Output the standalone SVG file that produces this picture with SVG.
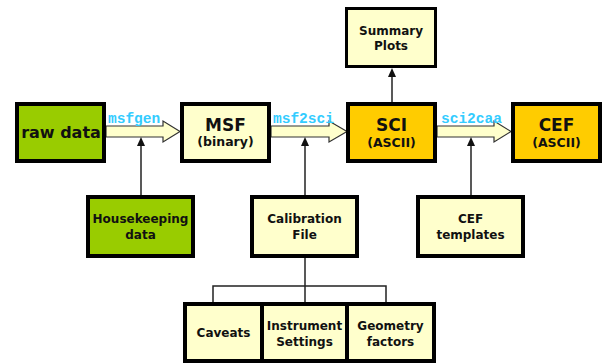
<svg xmlns="http://www.w3.org/2000/svg" width="603" height="363" viewBox="0 0 603 363">
<style>
.box{stroke:#000;stroke-width:4}
.g{fill:#99cc00}
.y{fill:#ffffcc}
.o{fill:#ffcc00}
.t{font-family:"DejaVu Sans",Verdana,sans-serif;font-weight:bold;fill:#111;text-anchor:middle}
.big{font-size:17px}
.mid{font-size:12.5px}
.sm{font-size:12px}
.lbl{font-family:"Liberation Mono","Courier New",monospace;font-weight:bold;font-size:14.5px;fill:#33ccff}
.blk{fill:#ffffcc;stroke:#333;stroke-width:1.2}
.ln{stroke:#222;stroke-width:1.5;fill:none}
.hd{fill:#111}
</style>
<g id="connectors">
<polygon class="blk" points="106,126 163,126 163,121 180,131.5 163,142 163,137 106,137"/>
<polygon class="blk" points="271,126 329,126 329,121 347,131.5 329,142 329,137 271,137"/>
<polygon class="blk" points="437,126 494,126 494,121 511,131.5 494,142 494,137 437,137"/>
<text class="lbl" x="108" y="123">msfgen</text>
<text class="lbl" x="273" y="123">msf2sci</text>
<text class="lbl" x="441" y="123">sci2caa</text>
<line class="ln" x1="141" y1="195" x2="141" y2="142"/>
<path class="hd" d="M137,146 L141,137 L145,146 Z"/>
<line class="ln" x1="305" y1="195" x2="305" y2="142"/>
<path class="hd" d="M301,146 L305,137 L309,146 Z"/>
<line class="ln" x1="471" y1="195" x2="471" y2="142"/>
<path class="hd" d="M467,146 L471,137 L475,146 Z"/>
<line class="ln" x1="392" y1="102" x2="392" y2="72"/>
<path class="hd" d="M388,77 L392,68 L396,77 Z"/>
<line class="ln" x1="305" y1="258" x2="305" y2="302"/>
<polyline class="ln" points="213,302 213,286 386,286 386,302"/>
</g>
<g id="raw-data"><rect class="box g" x="17" y="104" width="87" height="57"/><text class="t" style="font-size:16px" x="61" y="138">raw data</text></g>
<g id="msf"><rect class="box y" x="182" y="104" width="87" height="57"/><text class="t big" x="225.5" y="131">MSF</text><text class="t mid" x="225.5" y="146">(binary)</text></g>
<g id="sci"><rect class="box o" x="348" y="104" width="87" height="57"/><text class="t big" x="391.5" y="131">SCI</text><text class="t mid" x="391.5" y="147">(ASCII)</text></g>
<g id="cef"><rect class="box o" x="513" y="104" width="87" height="57"/><text class="t big" x="556.5" y="131">CEF</text><text class="t mid" x="556.5" y="147">(ASCII)</text></g>
<g id="summary-plots"><rect class="box y" x="346.5" y="8.5" width="89" height="58" style="stroke-width:3"/><text class="t sm" x="391" y="35">Summary</text><text class="t sm" x="391" y="50">Plots</text></g>
<g id="housekeeping"><rect class="box g" x="88" y="197" width="105" height="59"/><text class="t sm" x="140.5" y="223">Housekeeping</text><text class="t sm" x="140.5" y="239">data</text></g>
<g id="calibration"><rect class="box y" x="252" y="197" width="105" height="59"/><text class="t sm" x="304.5" y="223">Calibration</text><text class="t sm" x="304.5" y="239">File</text></g>
<g id="cef-templates"><rect class="box y" x="418" y="197" width="105" height="59"/><text class="t sm" x="470.5" y="223">CEF</text><text class="t sm" x="470.5" y="239">templates</text></g>
<g id="caveats"><rect class="box y" x="185" y="304" width="77" height="57"/><text class="t sm" x="223.5" y="337">Caveats</text></g>
<g id="instrument-settings"><rect class="box y" x="262" y="304" width="85" height="57"/><text class="t sm" x="304.5" y="330">Instrument</text><text class="t sm" x="304.5" y="346">Settings</text></g>
<g id="geometry-factors"><rect class="box y" x="347" y="304" width="87" height="57"/><text class="t sm" x="390.5" y="330">Geometry</text><text class="t sm" x="390.5" y="346">factors</text></g>
</svg>
